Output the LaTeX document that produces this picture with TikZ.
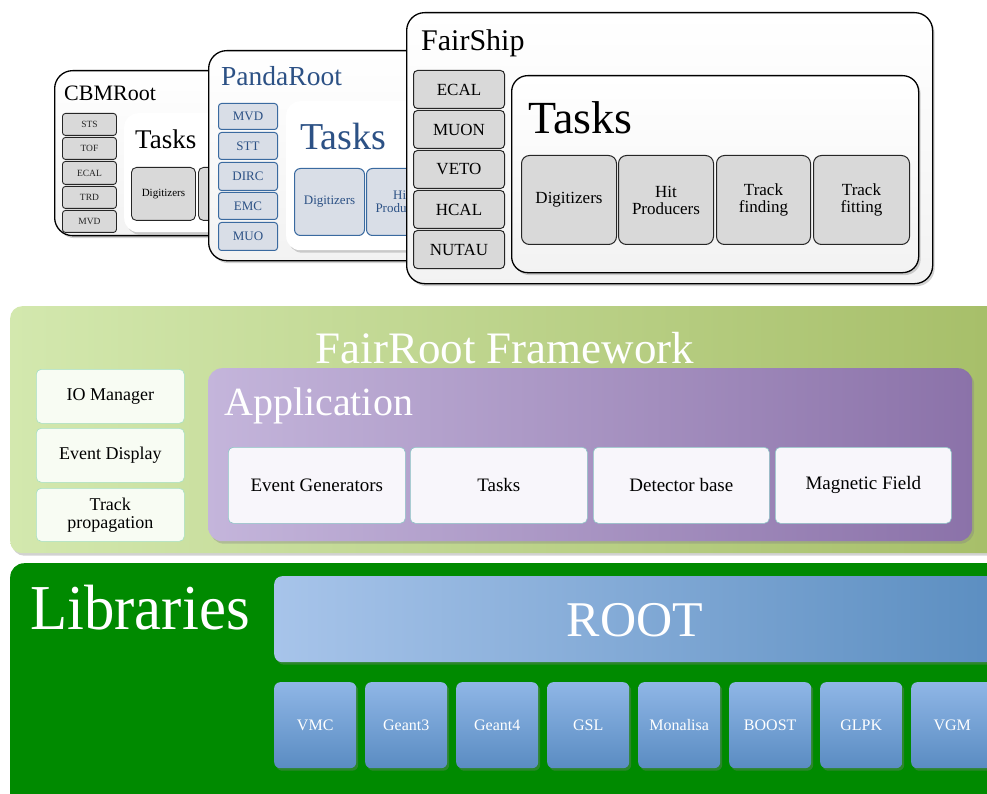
\documentclass[tikz,border=0pt]{standalone}
\usepackage{fontspec}
\setmainfont{Liberation Serif}
\usetikzlibrary{shadows}
\definecolor{pandablue}{HTML}{2C5185}
\definecolor{pandaline}{HTML}{3A6AA0}
\definecolor{pandafill}{HTML}{D9DEE7}
\definecolor{detgray}{HTML}{D9D9D9}
\definecolor{frameL}{HTML}{D3E8AE}
\definecolor{frameR}{HTML}{A6BE68}
\definecolor{appL}{HTML}{C4B5DB}
\definecolor{appR}{HTML}{8B72A9}
\definecolor{libgreen}{HTML}{008A00}
\definecolor{rootL}{HTML}{A7C4EA}
\definecolor{rootR}{HTML}{5A8DC0}
\definecolor{libT}{HTML}{8FB6E6}
\definecolor{libB}{HTML}{5A8CC2}
\newcommand\fsz[1]{\fontsize{#1}{#1}\selectfont}
\newcommand\bx[7]{\node[#2, anchor=north west, inner sep=0pt, minimum width={(#5-#3)*1pt}, minimum height={(#6-#4)*1pt}] (#1) at (#3,#4) {#7};}
\tikzset{
  shad/.style={drop shadow={opacity=0.35, shadow xshift=2pt, shadow yshift=-2.5pt}},
  panel/.style={draw=black, line width=1.3pt, rounded corners=18pt, top color=white, bottom color=black!5, shad},
  taskbg/.style={fill=white, rounded corners=14pt, shad},
  cbmdet/.style={draw=black!85, line width=0.9pt, fill=detgray, rounded corners=3pt, font=\fsz{9.5}, text=black!85},
  cbmtask/.style={draw=black!85, line width=0.9pt, fill=detgray, rounded corners=5pt, font=\fsz{11}, align=center},
  pandadet/.style={draw=pandaline, line width=1pt, fill=pandafill, rounded corners=3pt, font=\fsz{13}, text=pandablue},
  pandatask/.style={draw=pandaline, line width=1pt, fill=pandafill, rounded corners=6pt, font=\fsz{13}, text=pandablue, align=center},
  shipdet/.style={draw=black!85, line width=1pt, fill=detgray, rounded corners=4pt, font=\fsz{17}},
  shiptask/.style={draw=black!85, line width=1pt, fill=detgray, rounded corners=8pt, font=\fsz{17}, align=center},
  frbox/.style={draw=green!30!teal!35, line width=0.6pt, fill=white!85!frameL, rounded corners=5pt, font=\fsz{18}, align=center},
  appbox/.style={draw=teal!45, line width=0.6pt, fill=white!88!appL, rounded corners=5pt, font=\fsz{19}, align=center},
  libbox/.style={top color=libT, bottom color=libB, rounded corners=6pt, font=\fsz{16}, text=white, shad},
}
\begin{document}
\begin{tikzpicture}[x=1pt,y=-1pt]
\clip (0,0) rectangle (987,794);
\fill[white] (0,0) rectangle (987,794);

% ---------- CBMRoot ----------
\bx{cbm}{panel}{54}{70}{270}{235}{}
\node[anchor=west, inner sep=0pt, font=\fsz{22}] (cbmtitle) at (64,93) {CBMRoot};
\bx{cbmsts}{cbmdet}{62}{113}{116}{135}{STS}
\bx{cbmtof}{cbmdet}{62}{137}{116}{159}{TOF}
\bx{cbmecal}{cbmdet}{62}{161}{116}{184}{ECAL}
\bx{cbmtrd}{cbmdet}{62}{186}{116}{208}{TRD}
\bx{cbmmvd}{cbmdet}{62}{210}{116}{232}{MVD}
\bx{cbmtasks}{taskbg}{124}{113}{300}{232}{}
\node[anchor=west, inner sep=0pt, font=\fsz{27}] (cbmtaskt) at (135,139) {Tasks};
\bx{cbmdig}{cbmtask}{131}{167}{195}{220}{Digitizers}
\bx{cbmhit}{cbmtask}{198}{167}{262}{220}{Hit\\Producers}

% ---------- PandaRoot ----------
\bx{panda}{panel}{208}{50}{440}{260}{}
\node[anchor=west, inner sep=0pt, font=\fsz{27.5}, text=pandablue] (pandatitle) at (221,76) {PandaRoot};
\bx{pmvd}{pandadet}{218}{103}{277}{129}{MVD}
\bx{pstt}{pandadet}{218}{132}{277}{159}{STT}
\bx{pdirc}{pandadet}{218}{162}{277}{190}{DIRC}
\bx{pemc}{pandadet}{218}{192}{277}{219}{EMC}
\bx{pmuo}{pandadet}{218}{222}{277}{250}{MUO}
\bx{ptasks}{taskbg}{286}{101}{470}{250}{}
\node[anchor=west, inner sep=0pt, font=\fsz{38}, text=pandablue] (ptaskt) at (300,137) {Tasks};
\bx{pdig}{pandatask}{294}{168}{364}{235}{Digitizers}
\bx{phit}{pandatask}{366}{168}{436}{235}{Hit\\Producers}

% ---------- FairShip ----------
\bx{ship}{panel}{406}{12}{932}{283}{}
\node[anchor=west, inner sep=0pt, font=\fsz{30}] (shiptitle) at (421,43) {FairShip};
\bx{secal}{shipdet}{413}{70}{504}{108}{ECAL}
\bx{smuon}{shipdet}{413}{110}{504}{148}{MUON}
\bx{sveto}{shipdet}{413}{150}{504}{188}{VETO}
\bx{shcal}{shipdet}{413}{190}{504}{228}{HCAL}
\bx{snutau}{shipdet}{413}{230}{504}{268}{NUTAU}
\bx{stasks}{panel, rounded corners=16pt}{511}{75}{918}{272}{}
\node[anchor=west, inner sep=0pt, font=\fsz{46}] (staskt) at (528,118) {Tasks};
\bx{sdig}{shiptask}{521}{155}{616}{244}{Digitizers}
\bx{shit}{shiptask}{618}{155}{713}{244}{Hit\\Producers}
\bx{sfind}{shiptask}{716}{155}{810}{244}{Track\\finding}
\bx{sfit}{shiptask}{813}{155}{909}{244}{Track\\fitting}

% ---------- FairRoot Framework ----------
\bx{frame}{left color=frameL, right color=frameR, rounded corners=12pt, shad}{10}{306}{1010}{553}{}
\node[font=\fsz{45}, text=white, inner sep=0pt] (frtitle) at (505,348) {FairRoot Framework};
\bx{io}{frbox}{36}{369}{184}{423}{IO Manager}
\bx{evd}{frbox}{36}{428}{184}{482}{Event Display}
\bx{trp}{frbox}{36}{488}{184}{541}{Track\\propagation}
\bx{app}{left color=appL, right color=appR, rounded corners=14pt, shad}{208}{368}{972}{541}{}
\node[anchor=west, inner sep=0pt, font=\fsz{40}, text=white] (apptitle) at (224,406) {Application};
\bx{evg}{appbox}{228}{447}{405}{523}{Event Generators}
\bx{atasks}{appbox}{410}{447}{587}{523}{Tasks}
\bx{detb}{appbox}{593}{447}{769}{523}{Detector base}
\bx{magf}{appbox}{775}{447}{951}{523}{Magnetic Field}

% ---------- Libraries ----------
\bx{libs}{fill=libgreen, rounded corners=14pt}{10}{563}{1010}{820}{}
\node[font=\fsz{64}, text=white, inner sep=0pt, xscale=0.95] (libtitle) at (140,608) {Libraries};
\bx{root}{left color=rootL, right color=rootR, rounded corners=8pt, shad}{274}{576}{1010}{662}{}
\node[font=\fsz{50}, text=white, inner sep=0pt] (roottext) at (635,620) {ROOT};
\bx{vmc}{libbox}{274}{682}{356}{768}{VMC}
\bx{g3}{libbox}{365}{682}{447}{768}{Geant3}
\bx{g4}{libbox}{456}{682}{538}{768}{Geant4}
\bx{gsl}{libbox}{547}{682}{629}{768}{GSL}
\bx{mona}{libbox}{638}{682}{720}{768}{Monalisa}
\bx{boost}{libbox}{729}{682}{811}{768}{BOOST}
\bx{glpk}{libbox}{820}{682}{902}{768}{GLPK}
\bx{vgm}{libbox}{911}{682}{993}{768}{VGM}
\end{tikzpicture}
\end{document}
